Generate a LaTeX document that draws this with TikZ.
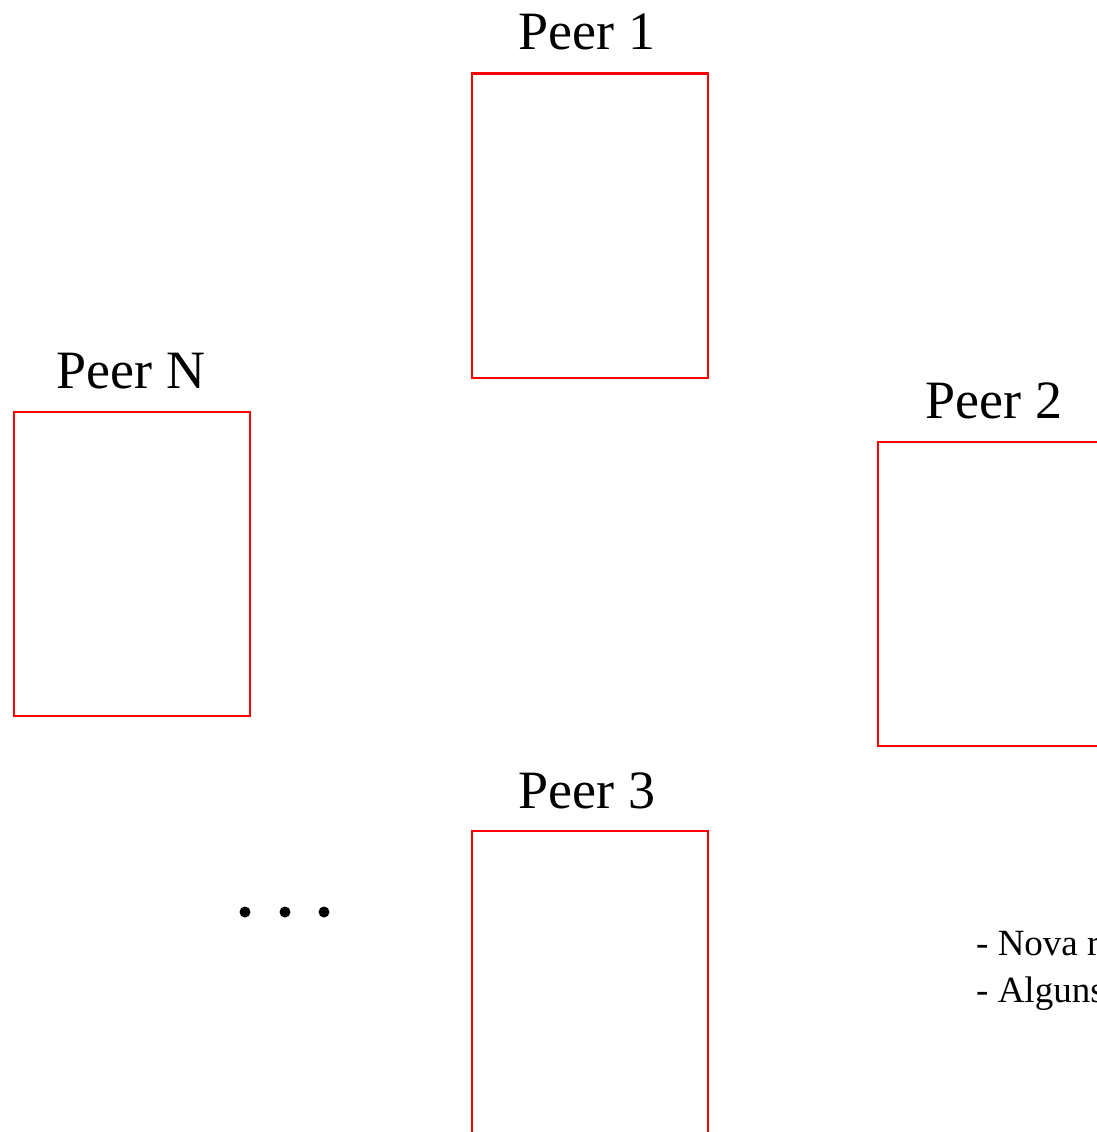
\documentclass[tikz,border=0pt]{standalone}
\usepackage{fontspec}
\setmainfont{Liberation Serif}
\begin{document}
\begin{tikzpicture}[x=1pt,y=-1pt,
  peerbox/.style={draw=red, line width=2.6pt, minimum width=236pt, minimum height=304pt, inner sep=0pt, anchor=north west},
  peerlabel/.style={font=\fontsize{54}{60}\selectfont, anchor=base, inner sep=0pt},
  notetext/.style={font=\fontsize{37}{44}\selectfont, anchor=base west, inner sep=0pt},
  dotmark/.style={circle, fill=black, minimum size=11pt, inner sep=0pt}]
\useasboundingbox (0,0) rectangle (1097,1132);
\clip (0,0) rectangle (1097,1132);
\node[peerbox] (p1) at (470.5,72.5) {};
\node[peerbox] (pN) at (12.5,410.5) {};
\node[peerbox] (p2) at (876.5,440.5) {};
\node[peerbox] (p3) at (470.5,829.5) {};
\node[peerlabel] (l1) at (587,49) {Peer 1};
\node[peerlabel] (lN) at (131,388) {Peer N};
\node[peerlabel] (l2) at (994,418) {Peer 2};
\node[peerlabel] (l3) at (587,808) {Peer 3};
\node[dotmark] (d1) at (245,912) {};
\node[dotmark] (d2) at (285,912) {};
\node[dotmark] (d3) at (324,912) {};
\node[notetext] (t1) at (976,955) {- Nova r};
\node[notetext] (t2) at (976,1002) {- Alguns};
\end{tikzpicture}
\end{document}
